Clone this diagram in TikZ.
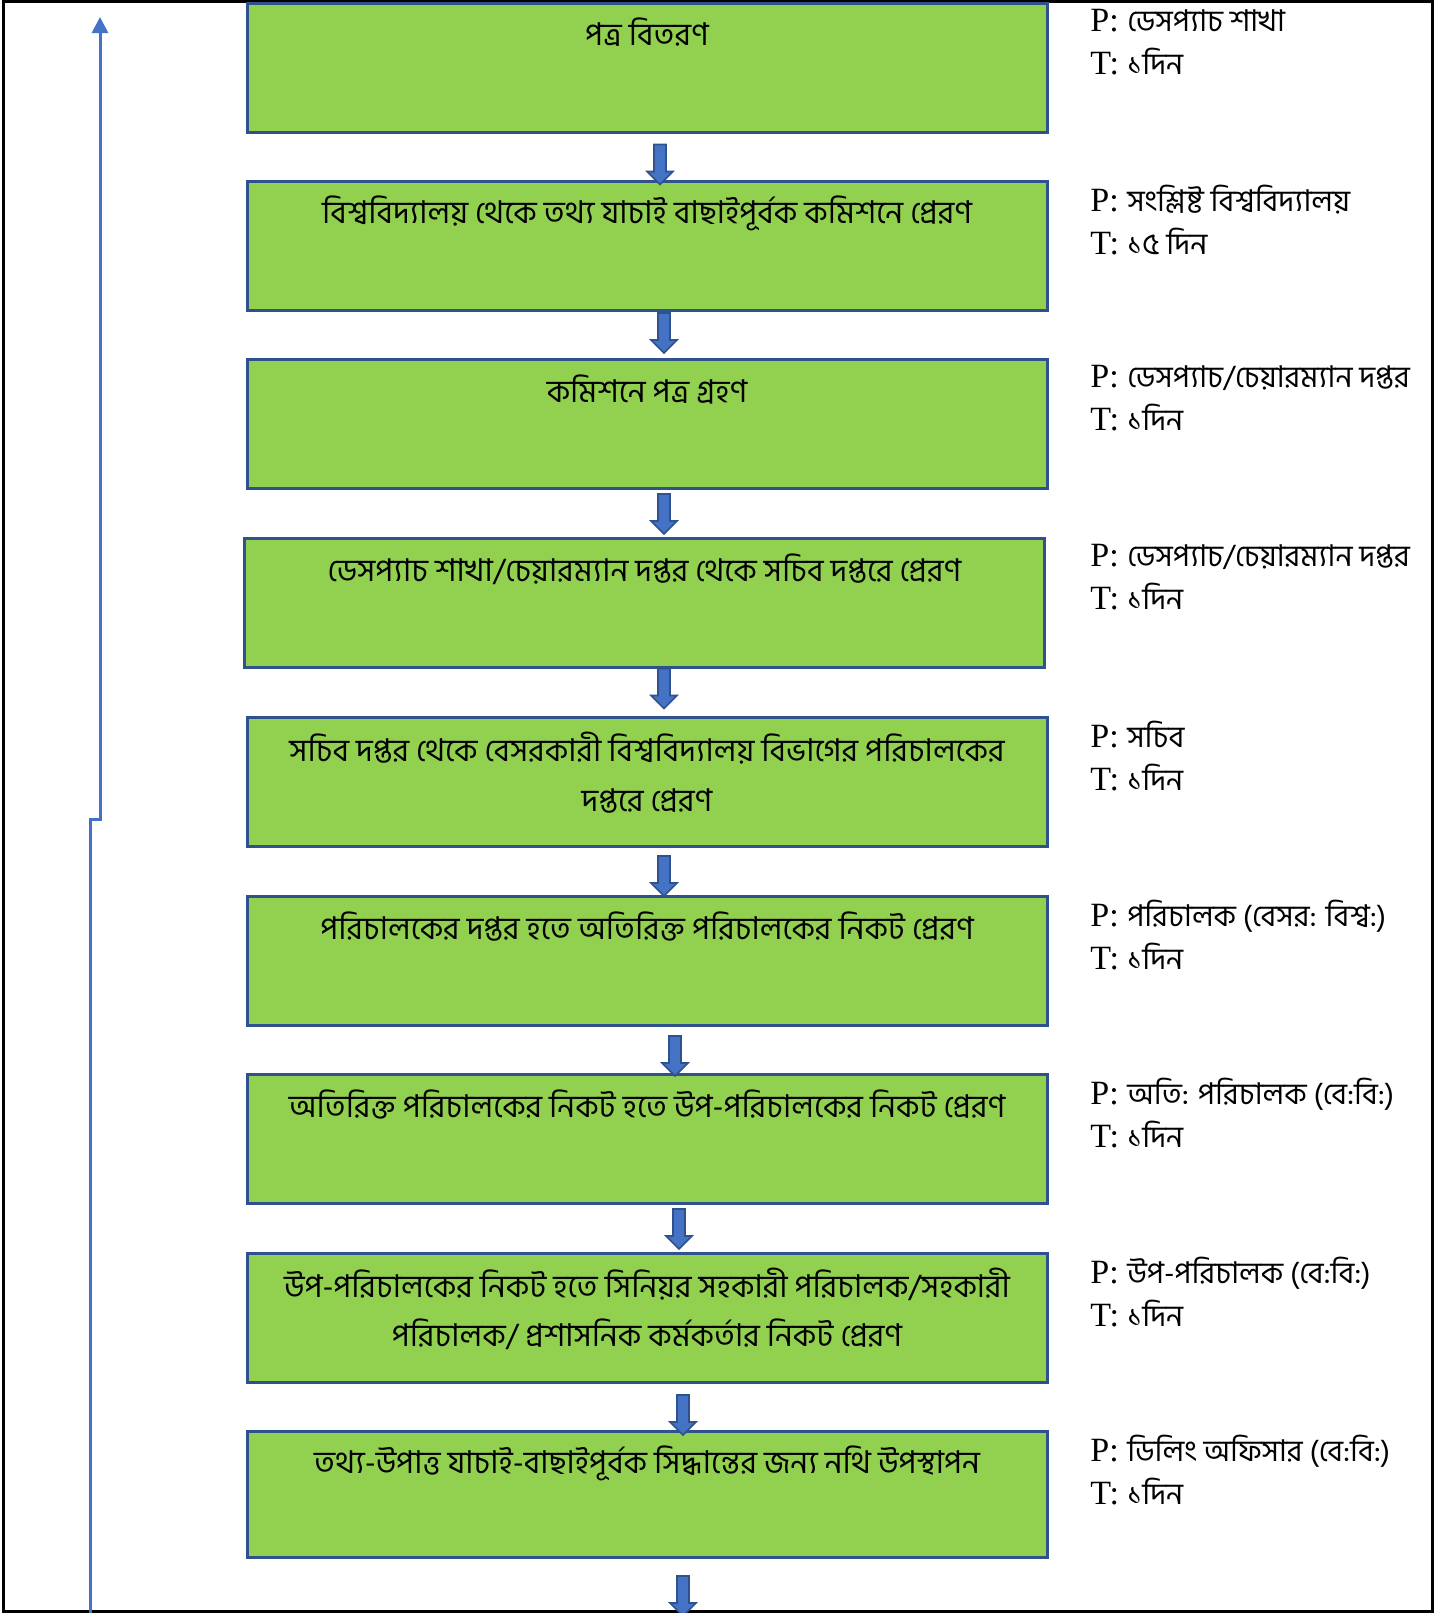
\documentclass[tikz,border=0pt]{standalone}
\usepackage{fontspec}
\setmainfont{Liberation Serif}
\newfontfamily\bn[Script=Bengali]{Hind Siliguri}
\newcommand{\bnlabel}{\bn\fontsize{15}{21.5}\selectfont}
\usepackage{xcolor}
\usepackage{tikz}
\usetikzlibrary{positioning}
\usetikzlibrary{shapes.arrows}
\usetikzlibrary{arrows.meta}
\definecolor{boxgreen}{HTML}{92D050}
\definecolor{boxline}{HTML}{2F528F}
\definecolor{flowblue}{HTML}{4472C4}

\tikzset{
  stepbox/.style={draw=boxline, fill=boxgreen, line width=1.5pt, minimum width=400pt, minimum height=64.5pt, inner sep=0pt},
  steptext/.style={font=\bn\fontsize{15.7}{24.7}\selectfont, align=center, inner sep=0pt},
  whobox/.style={anchor=west, align=left, inner sep=0pt, font=\fontsize{17}{21.5}\selectfont},
  flowarrow/.style={single arrow, draw=boxline, fill=flowblue, line width=0.8pt, shape border rotate=270, minimum height=20pt, inner sep=2.6pt, single arrow head extend=3.5pt},
}

\begin{document}
\begin{tikzpicture}[x=0.5pt, y=-0.5pt]
	\useasboundingbox (0,0) rectangle (1452,1613);
	\draw[line width=1.5pt] (3,1) rectangle (1432,1611);
	% Boxes
	\node[stepbox] (b1) at (647,67.5) {};
	\node[stepbox] (b2) at (647,245.5) {};
	\node[stepbox] (b3) at (647,424) {};
	\node[stepbox] (b4) at (644.5,603) {};
	\node[stepbox] (b5) at (647,782) {};
	\node[stepbox] (b6) at (647,961) {};
	\node[stepbox] (b7) at (647,1139) {};
	\node[stepbox] (b8) at (647,1317.5) {};
	\node[stepbox, minimum height=63pt] (b9) at (647,1494) {};
	% Texts in boxes
	\node[steptext, below=8pt of b1.north] (t1) {পত্র বিতরণ};
	\node[steptext, below=8pt of b2.north] (t2) {বিশ্ববিদ্যালয় থেকে তথ্য যাচাই বাছাইপূর্বক কমিশনে প্রেরণ};
	\node[steptext, below=8pt of b3.north] (t3) {কমিশনে পত্র গ্রহণ};
	\node[steptext, below=8pt of b4.north] (t4) {ডেসপ্যাচ শাখা/চেয়ারম্যান দপ্তর থেকে সচিব দপ্তরে প্রেরণ};
	\node[steptext, below=8pt of b5.north] (t5) {সচিব দপ্তর থেকে বেসরকারী বিশ্ববিদ্যালয় বিভাগের পরিচালকের\\দপ্তরে প্রেরণ};
	\node[steptext, below=8pt of b6.north] (t6) {পরিচালকের দপ্তর হতে অতিরিক্ত পরিচালকের নিকট প্রেরণ};
	\node[steptext, below=8pt of b7.north] (t7) {অতিরিক্ত পরিচালকের নিকট হতে উপ-পরিচালকের নিকট প্রেরণ};
	\node[steptext, below=8pt of b8.north] (t8) {উপ-পরিচালকের নিকট হতে সিনিয়র সহকারী পরিচালক/সহকারী\\পরিচালক/ প্রশাসনিক কর্মকর্তার নিকট প্রেরণ};
	\node[steptext, below=8pt of b9.north] (t9) {তথ্য-উপাত্ত যাচাই-বাছাইপূর্বক সিদ্ধান্তের জন্য নথি উপস্থাপন};
	% Person and time
	\node[whobox] (w1) at (1090,42) {P: {\bnlabel ডেসপ্যাচ শাখা}\\T: {\bnlabel ১দিন}};
	\node[whobox] (w2) at (1090,220) {P: {\bnlabel সংশ্লিষ্ট বিশ্ববিদ্যালয়}\\T: {\bnlabel ১৫ দিন}};
	\node[whobox] (w3) at (1090,398) {P: {\bnlabel ডেসপ্যাচ/চেয়ারম্যান দপ্তর}\\T: {\bnlabel ১দিন}};
	\node[whobox] (w4) at (1090,577) {P: {\bnlabel ডেসপ্যাচ/চেয়ারম্যান দপ্তর}\\T: {\bnlabel ১দিন}};
	\node[whobox] (w5) at (1090,756) {P: {\bnlabel সচিব}\\T: {\bnlabel ১দিন}};
	\node[whobox] (w6) at (1090,935) {P: {\bnlabel পরিচালক (বেসর: বিশ্ব:)}\\T: {\bnlabel ১দিন}};
	\node[whobox] (w7) at (1090,1113) {P: {\bnlabel অতি: পরিচালক (বে:বি:)}\\T: {\bnlabel ১দিন}};
	\node[whobox] (w8) at (1090,1292) {P: {\bnlabel উপ-পরিচালক (বে:বি:)}\\T: {\bnlabel ১দিন}};
	\node[whobox] (w9) at (1090,1470) {P: {\bnlabel ডিলিং অফিসার (বে:বি:)}\\T: {\bnlabel ১দিন}};
	% Arrows between boxes
	\node[flowarrow] (a1) at (660,161.5) {};
	\node[flowarrow] (a2) at (664,330) {};
	\node[flowarrow] (a3) at (664,511) {};
	\node[flowarrow] (a4) at (664,685.5) {};
	\node[flowarrow] (a5) at (664,873) {};
	\node[flowarrow] (a6) at (675,1053) {};
	\node[flowarrow] (a7) at (679,1226) {};
	\node[flowarrow] (a8) at (683,1412) {};
	\node[flowarrow] (a9) at (683,1593) {};
	% Return line
	\coordinate (r0) at (90,1613);
	\coordinate (r1) at (90,819);
	\coordinate (r2) at (100,819);
	\coordinate (r3) at (100,17);
	\draw[flowblue, line width=1.5pt, -{Triangle[width=8pt, length=8pt]}] (r0) -- (r1) -- (r2) -- (r3);
\end{tikzpicture}
\end{document}
